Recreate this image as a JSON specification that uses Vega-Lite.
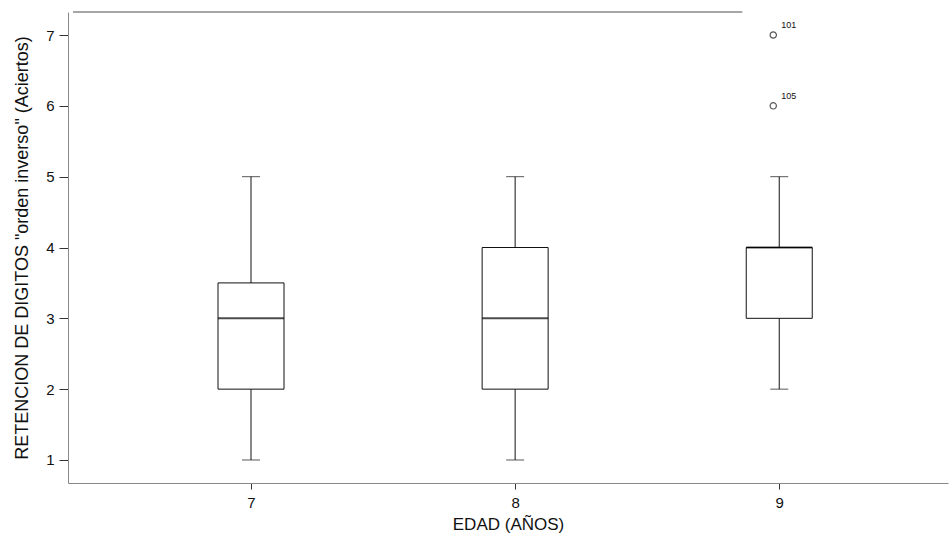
{
  "$schema": "https://vega.github.io/schema/vega-lite/v6.json",
  "autosize": {"type": "none"},
  "padding": {"left": 68, "top": 12, "right": 2, "bottom": 56},
  "width": 880,
  "height": 471,
  "background": "white",
  "config": {
    "view": {"stroke": null},
    "font": "Liberation Sans",
    "axis": {"labelFont": "Liberation Sans", "titleFont": "Liberation Sans", "labelColor": "#111", "titleColor": "#111", "domainColor": "#777", "tickColor": "#333"}
  },
  "datasets": {
    "boxes": [
      {"edad": 7, "min": 1, "q1": 2, "med": 3, "q3": 3.5, "max": 5},
      {"edad": 8, "min": 1, "q1": 2, "med": 3, "q3": 4, "max": 5},
      {"edad": 9, "min": 2, "q1": 3, "med": 4, "q3": 4, "max": 5}
    ],
    "outliers": [
      {"edad": 9, "v": 7, "caso": "101"},
      {"edad": 9, "v": 6, "caso": "105"}
    ]
  },
  "layer": [
    {
      "data": {"name": "boxes"},
      "mark": {"type": "rule", "color": "#111", "strokeWidth": 1},
      "encoding": {
        "x": {"field": "edad", "type": "quantitative", "scale": {"domain": [6.326, 9.62], "nice": false, "zero": false},
          "axis": {"values": [7, 8, 9], "format": "d", "title": "EDAD (AÑOS)", "titleFontSize": 17, "titleFontWeight": "normal", "titlePadding": 6, "labelFontSize": 15, "tickSize": 6, "labelPadding": 6, "grid": false, "domainColor": "#888"}},
        "y": {"field": "min", "type": "quantitative", "scale": {"domain": [0.675, 7.325], "nice": false, "zero": false},
          "axis": {"values": [1, 2, 3, 4, 5, 6, 7], "format": "d", "title": "RETENCION DE DIGITOS \"orden inverso\" (Aciertos)", "titleFontSize": 18, "titleFontWeight": "normal", "titlePadding": 14, "labelFontSize": 15, "tickSize": 9, "labelPadding": 5, "grid": false, "domainColor": "#888"}},
        "y2": {"field": "max"}
      }
    },
    {
      "data": {"name": "boxes"},
      "mark": {"type": "bar", "size": 66, "fill": "white", "stroke": "#111", "strokeWidth": 1},
      "encoding": {
        "x": {"field": "edad", "type": "quantitative"},
        "y": {"field": "q1", "type": "quantitative"},
        "y2": {"field": "q3"}
      }
    },
    {
      "data": {"name": "boxes"},
      "mark": {"type": "tick", "orient": "horizontal", "size": 66, "thickness": 2, "color": "#000"},
      "encoding": {
        "x": {"field": "edad", "type": "quantitative"},
        "y": {"field": "med", "type": "quantitative"}
      }
    },
    {
      "data": {"name": "boxes"},
      "mark": {"type": "tick", "orient": "horizontal", "size": 18, "thickness": 1, "color": "#111"},
      "encoding": {
        "x": {"field": "edad", "type": "quantitative"},
        "y": {"field": "min", "type": "quantitative"}
      }
    },
    {
      "data": {"name": "boxes"},
      "mark": {"type": "tick", "orient": "horizontal", "size": 18, "thickness": 1, "color": "#111"},
      "encoding": {
        "x": {"field": "edad", "type": "quantitative"},
        "y": {"field": "max", "type": "quantitative"}
      }
    },
    {
      "data": {"name": "outliers"},
      "mark": {"type": "point", "shape": "circle", "size": 40, "color": "#111", "strokeWidth": 1.2, "xOffset": -6},
      "encoding": {
        "x": {"field": "edad", "type": "quantitative"},
        "y": {"field": "v", "type": "quantitative"}
      }
    },
    {
      "data": {"name": "outliers"},
      "mark": {"type": "text", "fontSize": 9, "align": "left", "dx": 2, "dy": -10, "color": "#111"},
      "encoding": {
        "x": {"field": "edad", "type": "quantitative"},
        "y": {"field": "v", "type": "quantitative"},
        "text": {"field": "caso"}
      }
    },
    {
      "data": {"values": [{}]},
      "mark": {"type": "rule", "color": "#888", "strokeWidth": 1.5},
      "encoding": {
        "x": {"datum": 6.326, "type": "quantitative"},
        "x2": {"datum": 8.86},
        "y": {"datum": 7.325, "type": "quantitative"}
      }
    }
  ]
}
